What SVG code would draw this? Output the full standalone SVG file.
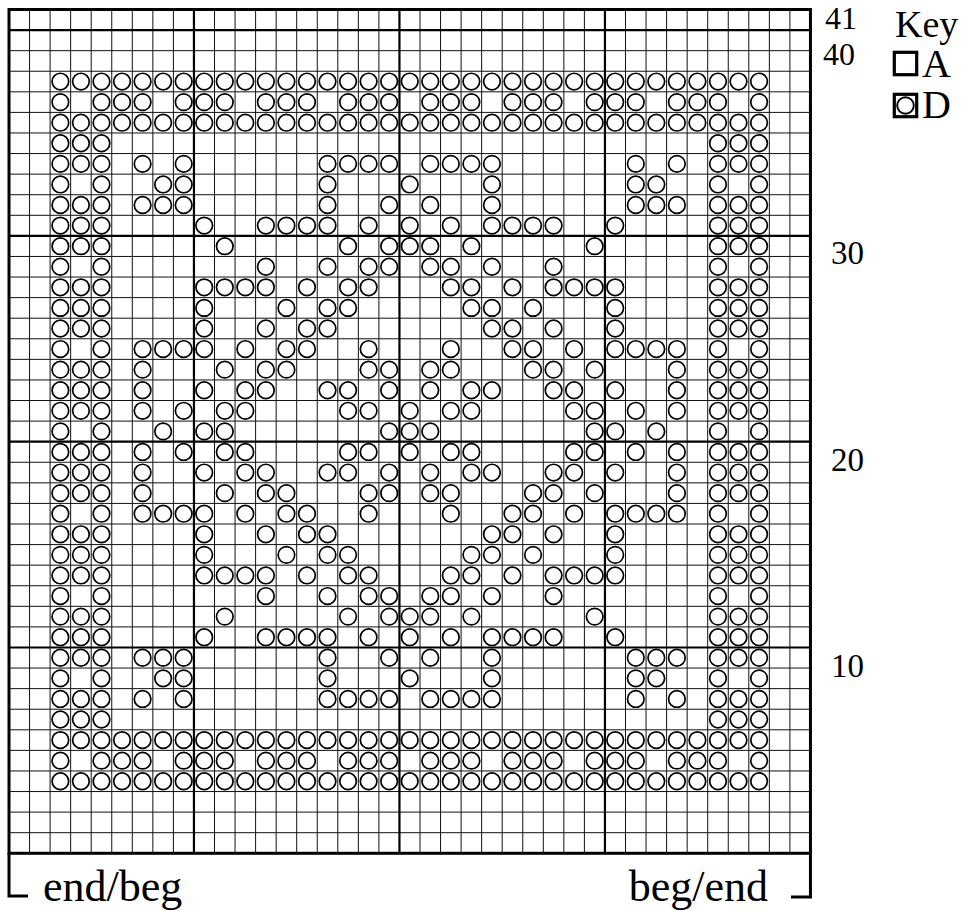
<svg xmlns="http://www.w3.org/2000/svg" xmlns:xlink="http://www.w3.org/1999/xlink" width="965" height="911" viewBox="0 0 965 911">
<style>
.thin{fill:none;stroke:#111;stroke-width:1}
.thick{fill:none;stroke:#000;stroke-width:2.2}
.border{fill:none;stroke:#000;stroke-width:3}
.ci{fill:none;stroke:#000;stroke-width:1.7}
.lbl{font-family:"Liberation Serif","Times New Roman",serif;fill:#000}
</style>
<defs>
<circle id="o" class="ci" r="8.3"/>
<g id="r3"><use href="#o" x="60.38"/><use href="#o" x="80.93"/><use href="#o" x="101.48"/><use href="#o" x="122.03"/><use href="#o" x="142.58"/><use href="#o" x="163.13"/><use href="#o" x="183.68"/><use href="#o" x="204.23"/><use href="#o" x="224.78"/><use href="#o" x="245.33"/><use href="#o" x="265.88"/><use href="#o" x="286.43"/><use href="#o" x="306.98"/><use href="#o" x="327.53"/><use href="#o" x="348.08"/><use href="#o" x="368.63"/><use href="#o" x="389.18"/><use href="#o" x="409.73"/><use href="#o" x="430.28"/><use href="#o" x="450.83"/><use href="#o" x="471.38"/><use href="#o" x="491.93"/><use href="#o" x="512.48"/><use href="#o" x="533.03"/><use href="#o" x="553.58"/><use href="#o" x="574.13"/><use href="#o" x="594.68"/><use href="#o" x="615.23"/><use href="#o" x="635.78"/><use href="#o" x="656.33"/><use href="#o" x="676.88"/><use href="#o" x="697.43"/><use href="#o" x="717.98"/><use href="#o" x="738.53"/><use href="#o" x="759.08"/></g>
<g id="r4"><use href="#o" x="60.38"/><use href="#o" x="101.48"/><use href="#o" x="122.03"/><use href="#o" x="142.58"/><use href="#o" x="183.68"/><use href="#o" x="204.23"/><use href="#o" x="224.78"/><use href="#o" x="265.88"/><use href="#o" x="286.43"/><use href="#o" x="306.98"/><use href="#o" x="348.08"/><use href="#o" x="368.63"/><use href="#o" x="389.18"/><use href="#o" x="430.28"/><use href="#o" x="450.83"/><use href="#o" x="471.38"/><use href="#o" x="512.48"/><use href="#o" x="533.03"/><use href="#o" x="553.58"/><use href="#o" x="594.68"/><use href="#o" x="615.23"/><use href="#o" x="635.78"/><use href="#o" x="676.88"/><use href="#o" x="697.43"/><use href="#o" x="717.98"/><use href="#o" x="759.08"/></g>
<g id="side3"><use href="#o" x="60.38"/><use href="#o" x="80.93"/><use href="#o" x="101.48"/><use href="#o" x="717.98"/><use href="#o" x="738.53"/><use href="#o" x="759.08"/></g>
<g id="side2"><use href="#o" x="60.38"/><use href="#o" x="101.48"/><use href="#o" x="717.98"/><use href="#o" x="759.08"/></g>
<g id="r6"><use href="#side3"/></g>
<g id="r7"><use href="#side3"/><use href="#o" x="142.58"/><use href="#o" x="183.68"/><use href="#o" x="327.53"/><use href="#o" x="348.08"/><use href="#o" x="368.63"/><use href="#o" x="389.18"/><use href="#o" x="430.28"/><use href="#o" x="450.83"/><use href="#o" x="471.38"/><use href="#o" x="491.93"/><use href="#o" x="635.78"/><use href="#o" x="676.88"/></g>
<g id="r8"><use href="#side2"/><use href="#o" x="163.13"/><use href="#o" x="183.68"/><use href="#o" x="327.53"/><use href="#o" x="409.73"/><use href="#o" x="491.93"/><use href="#o" x="635.78"/><use href="#o" x="656.33"/></g>
<g id="r9"><use href="#side3"/><use href="#o" x="142.58"/><use href="#o" x="163.13"/><use href="#o" x="183.68"/><use href="#o" x="327.53"/><use href="#o" x="389.18"/><use href="#o" x="430.28"/><use href="#o" x="491.93"/><use href="#o" x="635.78"/><use href="#o" x="656.33"/><use href="#o" x="676.88"/></g>
<g id="r10"><use href="#side3"/><use href="#o" x="204.23"/><use href="#o" x="265.88"/><use href="#o" x="286.43"/><use href="#o" x="306.98"/><use href="#o" x="327.53"/><use href="#o" x="368.63"/><use href="#o" x="409.73"/><use href="#o" x="450.83"/><use href="#o" x="491.93"/><use href="#o" x="512.48"/><use href="#o" x="533.03"/><use href="#o" x="553.58"/><use href="#o" x="615.23"/></g>
<g id="r11"><use href="#side3"/><use href="#o" x="224.78"/><use href="#o" x="348.08"/><use href="#o" x="389.18"/><use href="#o" x="409.73"/><use href="#o" x="430.28"/><use href="#o" x="471.38"/><use href="#o" x="594.68"/></g>
<g id="r12"><use href="#side2"/><use href="#o" x="265.88"/><use href="#o" x="327.53"/><use href="#o" x="368.63"/><use href="#o" x="389.18"/><use href="#o" x="430.28"/><use href="#o" x="450.83"/><use href="#o" x="491.93"/><use href="#o" x="553.58"/></g>
<g id="r13"><use href="#side3"/><use href="#o" x="204.23"/><use href="#o" x="224.78"/><use href="#o" x="245.33"/><use href="#o" x="265.88"/><use href="#o" x="306.98"/><use href="#o" x="348.08"/><use href="#o" x="368.63"/><use href="#o" x="450.83"/><use href="#o" x="471.38"/><use href="#o" x="512.48"/><use href="#o" x="553.58"/><use href="#o" x="574.13"/><use href="#o" x="594.68"/><use href="#o" x="615.23"/></g>
<g id="r14"><use href="#side3"/><use href="#o" x="204.23"/><use href="#o" x="286.43"/><use href="#o" x="327.53"/><use href="#o" x="348.08"/><use href="#o" x="471.38"/><use href="#o" x="491.93"/><use href="#o" x="533.03"/><use href="#o" x="615.23"/></g>
<g id="r15"><use href="#side3"/><use href="#o" x="204.23"/><use href="#o" x="265.88"/><use href="#o" x="306.98"/><use href="#o" x="327.53"/><use href="#o" x="491.93"/><use href="#o" x="512.48"/><use href="#o" x="553.58"/><use href="#o" x="615.23"/></g>
<g id="r16"><use href="#side2"/><use href="#o" x="142.58"/><use href="#o" x="163.13"/><use href="#o" x="183.68"/><use href="#o" x="204.23"/><use href="#o" x="245.33"/><use href="#o" x="286.43"/><use href="#o" x="306.98"/><use href="#o" x="368.63"/><use href="#o" x="450.83"/><use href="#o" x="512.48"/><use href="#o" x="533.03"/><use href="#o" x="574.13"/><use href="#o" x="615.23"/><use href="#o" x="635.78"/><use href="#o" x="656.33"/><use href="#o" x="676.88"/></g>
<g id="r17"><use href="#side3"/><use href="#o" x="142.58"/><use href="#o" x="224.78"/><use href="#o" x="265.88"/><use href="#o" x="286.43"/><use href="#o" x="368.63"/><use href="#o" x="389.18"/><use href="#o" x="430.28"/><use href="#o" x="450.83"/><use href="#o" x="533.03"/><use href="#o" x="553.58"/><use href="#o" x="594.68"/><use href="#o" x="676.88"/></g>
<g id="r18"><use href="#side3"/><use href="#o" x="142.58"/><use href="#o" x="204.23"/><use href="#o" x="245.33"/><use href="#o" x="265.88"/><use href="#o" x="327.53"/><use href="#o" x="348.08"/><use href="#o" x="389.18"/><use href="#o" x="430.28"/><use href="#o" x="471.38"/><use href="#o" x="491.93"/><use href="#o" x="553.58"/><use href="#o" x="574.13"/><use href="#o" x="615.23"/><use href="#o" x="676.88"/></g>
<g id="r19"><use href="#side3"/><use href="#o" x="142.58"/><use href="#o" x="183.68"/><use href="#o" x="224.78"/><use href="#o" x="245.33"/><use href="#o" x="348.08"/><use href="#o" x="368.63"/><use href="#o" x="409.73"/><use href="#o" x="450.83"/><use href="#o" x="471.38"/><use href="#o" x="574.13"/><use href="#o" x="594.68"/><use href="#o" x="635.78"/><use href="#o" x="676.88"/></g>
<g id="r20"><use href="#side2"/><use href="#o" x="163.13"/><use href="#o" x="204.23"/><use href="#o" x="224.78"/><use href="#o" x="389.18"/><use href="#o" x="409.73"/><use href="#o" x="430.28"/><use href="#o" x="594.68"/><use href="#o" x="615.23"/><use href="#o" x="656.33"/></g>
</defs>
<rect x="0" y="0" width="965" height="911" fill="#fff"/>
<g id="grid">
<path class="thin" d="M29.55 9.5V853.28M50.1 9.5V853.28M70.65 9.5V853.28M91.2 9.5V853.28M111.75 9.5V853.28M132.3 9.5V853.28M152.85 9.5V853.28M173.4 9.5V853.28M214.5 9.5V853.28M235.05 9.5V853.28M255.6 9.5V853.28M276.15 9.5V853.28M296.7 9.5V853.28M317.25 9.5V853.28M337.8 9.5V853.28M358.35 9.5V853.28M378.9 9.5V853.28M420 9.5V853.28M440.55 9.5V853.28M461.1 9.5V853.28M481.65 9.5V853.28M502.2 9.5V853.28M522.75 9.5V853.28M543.3 9.5V853.28M563.85 9.5V853.28M584.4 9.5V853.28M625.5 9.5V853.28M646.05 9.5V853.28M666.6 9.5V853.28M687.15 9.5V853.28M707.7 9.5V853.28M728.25 9.5V853.28M748.8 9.5V853.28M769.35 9.5V853.28M789.9 9.5V853.28"/>
<path class="thin" d="M9 50.66H810.45M9 71.24H810.45M9 91.82H810.45M9 112.4H810.45M9 132.98H810.45M9 153.56H810.45M9 174.14H810.45M9 194.72H810.45M9 215.3H810.45M9 256.46H810.45M9 277.04H810.45M9 297.62H810.45M9 318.2H810.45M9 338.78H810.45M9 359.36H810.45M9 379.94H810.45M9 400.52H810.45M9 421.1H810.45M9 462.26H810.45M9 482.84H810.45M9 503.42H810.45M9 524H810.45M9 544.58H810.45M9 565.16H810.45M9 585.74H810.45M9 606.32H810.45M9 626.9H810.45M9 668.06H810.45M9 688.64H810.45M9 709.22H810.45M9 729.8H810.45M9 750.38H810.45M9 770.96H810.45M9 791.54H810.45M9 812.12H810.45M9 832.7H810.45"/>
<path class="thick" d="M193.95 9.5V853.28M399.45 9.5V853.28M604.95 9.5V853.28M9 30.08H810.45M9 235.88H810.45M9 441.68H810.45M9 647.48H810.45"/>
<rect class="border" x="9" y="9.5" width="801.45" height="843.78"/>
</g>
<g id="stitches">
<use href="#r3" y="81.53"/>
<use href="#r4" y="102.11"/>
<use href="#r3" y="122.69"/>
<use href="#r6" y="143.27"/>
<use href="#r7" y="163.85"/>
<use href="#r8" y="184.43"/>
<use href="#r9" y="205.01"/>
<use href="#r10" y="225.59"/>
<use href="#r11" y="246.17"/>
<use href="#r12" y="266.75"/>
<use href="#r13" y="287.33"/>
<use href="#r14" y="307.91"/>
<use href="#r15" y="328.49"/>
<use href="#r16" y="349.07"/>
<use href="#r17" y="369.65"/>
<use href="#r18" y="390.23"/>
<use href="#r19" y="410.81"/>
<use href="#r20" y="431.39"/>
<use href="#r19" y="451.97"/>
<use href="#r18" y="472.55"/>
<use href="#r17" y="493.13"/>
<use href="#r16" y="513.71"/>
<use href="#r15" y="534.29"/>
<use href="#r14" y="554.87"/>
<use href="#r13" y="575.45"/>
<use href="#r12" y="596.03"/>
<use href="#r11" y="616.61"/>
<use href="#r10" y="637.19"/>
<use href="#r9" y="657.77"/>
<use href="#r8" y="678.35"/>
<use href="#r7" y="698.93"/>
<use href="#r6" y="719.51"/>
<use href="#r3" y="740.09"/>
<use href="#r4" y="760.67"/>
<use href="#r3" y="781.25"/>
</g>
<g id="row-numbers" class="lbl" font-size="33">
<text x="825" y="29" font-size="32">41</text>
<text x="823" y="65" font-size="32">40</text>
<text x="831" y="264">30</text>
<text x="831" y="471">20</text>
<text x="831" y="677">10</text>
</g>
<g id="key">
<text class="lbl" x="895" y="37" font-size="38">Key</text>
<rect x="894.3" y="52.3" width="22.4" height="22.4" fill="none" stroke="#000" stroke-width="3.2"/>
<text class="lbl" x="922" y="77" font-size="40">A</text>
<rect x="894.3" y="94.3" width="22.4" height="22.4" fill="none" stroke="#000" stroke-width="3.2"/>
<circle cx="905.5" cy="105.5" r="8.3" fill="none" stroke="#000" stroke-width="2"/>
<text class="lbl" x="922" y="118" font-size="40">D</text>
</g>
<g id="ends">
<path d="M9 853V896H28" fill="none" stroke="#000" stroke-width="3"/>
<path d="M810.45 853V897H791" fill="none" stroke="#000" stroke-width="3"/>
<text class="lbl" x="43" y="901" font-size="44">end/beg</text>
<text class="lbl" x="768" y="901" font-size="44" text-anchor="end">beg/end</text>
</g>
</svg>
